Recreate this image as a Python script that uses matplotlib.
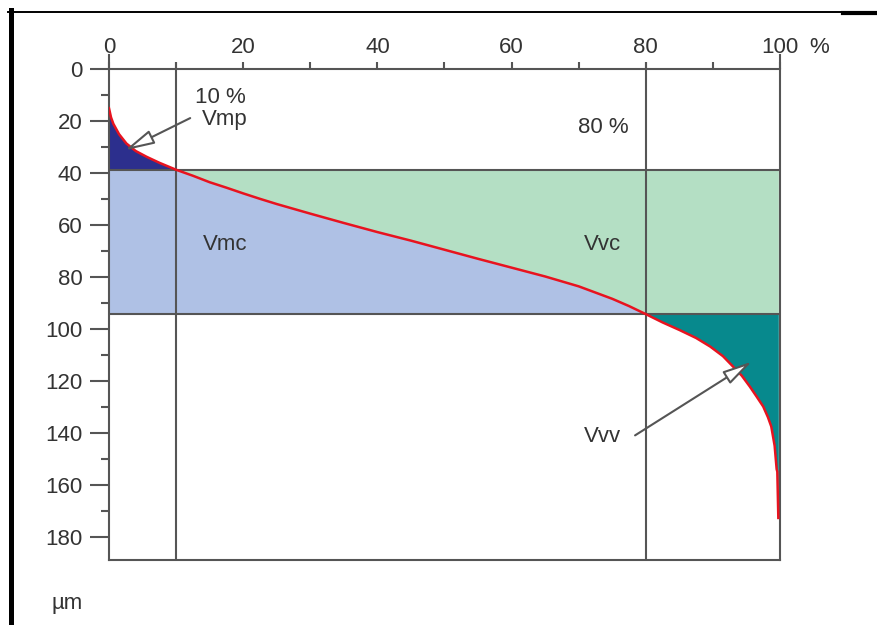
import numpy as np
import matplotlib.pyplot as plt
from matplotlib.lines import Line2D

plt.rcParams['font.family'] = ['Liberation Sans', 'DejaVu Sans']

# bearing ratio (%) and depth (um) of the Abbott-Firestone curve
pct = [0, 0.3, 0.65, 1.5, 2.6, 4, 5.6, 7.5, 10, 12.5, 15, 17.5, 20, 22.5, 25,
       30, 35, 40, 45, 50, 55, 60, 65, 70, 75, 77.5, 80, 82.5, 85, 87.5,
       89.6, 91.5, 93, 94.3, 95.5, 96.5, 97.5, 98.2, 98.7, 99.2, 99.5, 99.6,
       99.75]
depth = [15, 18.5, 21, 25, 28.6, 31.5, 33.7, 36, 38.7, 41, 43.5, 45.6, 47.8,
         49.9, 51.9, 55.6, 59.2, 62.7, 66.0, 69.5, 73.0, 76.4, 79.8, 83.6,
         88.4, 91.2, 94.3, 97.5, 100.4, 103.5, 106.8, 110.5, 114.5, 118,
         122.2, 126, 129.9, 134, 137.6, 145, 154, 155, 172.8]

mr_limits = [10, 80]          # material ratio limits (%)
depth_limits = [38.7, 94.3]   # depths at those limits (um)

x_ticks = [0, 20, 40, 60, 80, 100]
x_ticklabels = ['0', '20', '40', '60', '80', '100']
y_ticks = list(range(0, 181, 20))

grey = '#555555'
txt = '#333333'
fs = 16

fig = plt.figure(figsize=(8.77, 6.25), dpi=100)
ax = fig.add_axes([109 / 877, 1 - 560 / 625, 671 / 877, 505 / 625])
ax.set_xlim(0, 100)
ax.set_ylim(189, -5.5)

p = np.array(pct)
d = np.array(depth)
lo, hi = depth_limits

ax.fill_between(p, d, lo, where=p <= mr_limits[0], color='#2c2f8d', lw=0)
ax.fill_between(p, np.maximum(d, lo), hi, where=p <= mr_limits[1],
                color='#afc1e5', lw=0)
ax.fill_between(p, lo, np.minimum(d, hi), where=p >= mr_limits[0],
                color='#b4dfc4', lw=0)
ax.fill_between(p, hi, d, where=p >= mr_limits[1], color='#07898d', lw=0)

ax.plot(p, d, color='#e8131f', lw=1.8, zorder=4)

for y in depth_limits:
    ax.axhline(y, color=grey, lw=1.5, zorder=3)
ax.vlines(mr_limits, -2.7, 189, color=grey, lw=1.5, zorder=3, clip_on=False)

# axes frame: top spine sits on depth 0
for s in ax.spines.values():
    s.set_color(grey)
    s.set_linewidth(1.5)
ax.spines['top'].set_position(('data', 0))

ax.xaxis.tick_top()
ax.set_xticks(x_ticks)
ax.set_xticklabels(x_ticklabels)
ax.set_xticks(range(10, 100, 20), minor=True)
ax.set_yticks(y_ticks)
ax.set_yticks(range(10, 180, 20), minor=True)

ax.tick_params(axis='x', which='both', direction='out', length=5, width=1.5,
               color=grey, labelsize=fs, labelcolor=txt, pad=3)
ax.tick_params(axis='y', which='both', direction='out', length=6, width=1.5,
               color=grey, labelsize=fs, labelcolor=txt, pad=13)

# longer ticks at 0 and 100
for t in ax.yaxis.get_major_ticks():
    if t.get_loc() in (0, 100):
        t.tick1line.set_markersize(13.5)

ax.annotate('%', xy=(100, 0), xytext=(28, 16), textcoords='offset points',
            fontsize=fs, color=txt, va='center', ha='center')

kw = dict(fontsize=fs, color=txt, ha='center', va='center', zorder=5)
ax.text(16.6, 11.0, '10 %', **kw)
ax.text(17.3, 19.2, 'Vmp', **kw)
ax.text(73.6, 22.3, '80 %', **kw)
ax.text(17.3, 67.3, 'Vmc', **kw)
ax.text(73.5, 67.3, 'Vvc', **kw)
ax.text(73.5, 141.5, 'Vvv', **kw)
fig.text(67 / 877, 1 - 603 / 625, 'µm', fontsize=fs, color=txt,
         ha='center', va='center')

arrow = dict(arrowstyle='-|>,head_length=0.9,head_width=0.22', fc='white',
             ec=grey, lw=1.5, mutation_scale=20, shrinkA=0, shrinkB=0)
ax.annotate('', xy=(2.4, 31.2), xytext=(12.1, 18.8), arrowprops=arrow,
            zorder=6)
ax.annotate('', xy=(95.8, 112.6), xytext=(78.4, 141), arrowprops=arrow,
            zorder=6)

# outer frame
fig.add_artist(Line2D([10.5 / 877, 10.5 / 877], [0, 1 - 10 / 625],
                      color='black', lw=3.6, transform=fig.transFigure))
fig.add_artist(Line2D([8 / 877, 1], [1 - 11.5 / 625, 1 - 11.5 / 625],
                      color='black', lw=1.4, transform=fig.transFigure))
fig.add_artist(Line2D([843 / 877, 1], [1 - 13 / 625, 1 - 13 / 625],
                      color='black', lw=3, transform=fig.transFigure))

fig.savefig('out.png', dpi=100)
